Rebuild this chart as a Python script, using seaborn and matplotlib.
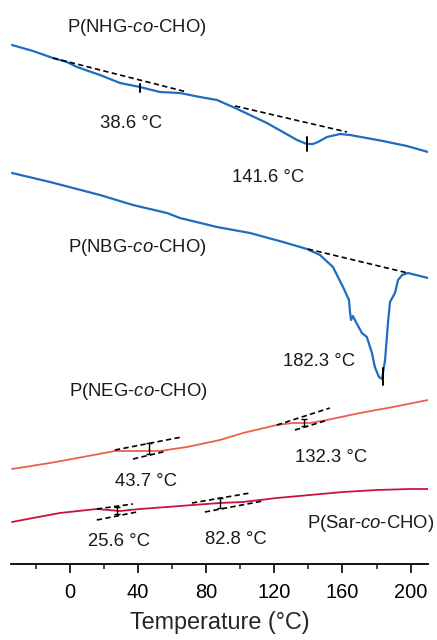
import seaborn as sns
import matplotlib.pyplot as plt
import numpy as np

# ----------- DATA (heat flow in a.u., curves already offset) -----------
nhg_t = [-34.0, -21.7, -10.0, -1.8, 4.1, 17.6, 29.4, 41.1, 52.8, 64.6, 76.3, 86.3, 95.7,
         105.7, 115.6, 125.0, 133.3, 139.1, 142.6, 145.6, 150.9, 158.5, 164.4, 183.7, 197.8, 210.2]
nhg_hf = [519, 513, 506, 502, 497, 489, 481, 477, 472, 471, 467, 464, 457,
          449, 441, 432, 424, 420, 420, 422, 427, 430, 429, 423, 418, 412]

nbg_t = [-34.0, -11.7, 17.6, 37.0, 56.9, 64.6, 86.3, 105.7, 125.1, 139.1, 146.8, 154.4,
         160.3, 163.8, 164.4, 165.0, 166.1, 167.9, 171.4, 174.3, 177.3, 179.0, 181.4,
         183.2, 185.0, 186.7, 187.9, 190.8, 192.6, 195.0, 198.4, 210.2]
nbg_hf = [391, 382, 369, 359, 351, 346, 337, 331, 322, 315, 309, 297,
          277, 264, 252, 244, 248, 242, 231, 227, 211, 197, 187,
          185, 204, 241, 262, 271, 284, 289, 291, 286]

neg_t = [-34.0, -11.7, 7.6, 26.4, 41.1, 52.8, 68.7, 88.1, 101.6, 121.5, 130.9, 140.9,
         150.9, 170.2, 189.6, 210.2]
neg_hf = [95, 101, 107, 113, 113, 113, 117, 124, 131, 139, 141, 141, 144, 151, 157, 164]

sar_t = [-34.0, -21.7, -5.9, 15.8, 29.4, 41.1, 56.9, 72.2, 88.1, 101.6, 121.5, 140.9,
         160.3, 180.2, 199.6, 210.2]
sar_hf = [42, 46, 51, 55, 53, 55, 57, 59, 61, 62, 66, 69, 72, 74, 75, 75]

# tangent lines: (T1, T2, hf1, hf2)
nhg_tangents = [(-10.0, 68.7, 506, 472), (96.9, 162.6, 458, 432)]
nbg_tangents = [(139.7, 198.4, 315, 291)]
neg_tangents = [(26.4, 65.7, 114, 127), (37.0, 56.9, 105, 113),
                (121.5, 152.6, 139, 156), (132.1, 151.5, 134, 144)]
sar_tangents = [(15.8, 37.0, 55, 60), (15.8, 39.3, 44, 52),
                (71.6, 105.7, 61, 71), (79.2, 113.3, 52, 63)]

# transition marks: (T, hf_low, hf_high)
step_marks = [(41.1, 472, 480), (139.1, 413, 427), (183.7, 179, 196)]
capped_marks = [(46.4, 110, 121), (137.4, 138, 145), (27.6, 50, 57), (88.1, 56, 66)]

# labels: (text, T, hf)
labels = [
    ("P(NHG-$\\it{co}$-CHO)", 39.3, 537),
    ("38.6 °C", 35.8, 441),
    ("141.6 °C", 116.2, 387),
    ("P(NBG-$\\it{co}$-CHO)", 39.6, 316),
    ("182.3 °C", 146.2, 202),
    ("P(NEG-$\\it{co}$-CHO)", 39.9, 172),
    ("132.3 °C", 153.2, 107),
    ("43.7 °C", 44.6, 82),
    ("25.6 °C", 28.8, 22),
    ("82.8 °C", 97.4, 24),
    ("P(Sar-$\\it{co}$-CHO)", 176.7, 41),
]

# ----------- STYLE -----------
sns.set_style("white")
plt.rcParams["font.family"] = ["Liberation Sans", "DejaVu Sans"]
plt.rcParams["mathtext.fontset"] = "custom"
plt.rcParams["mathtext.rm"] = "Liberation Sans"
plt.rcParams["mathtext.it"] = "Liberation Sans:italic"

fig = plt.figure(figsize=(4.37, 6.4), dpi=100)
ax = fig.add_axes([11 / 437, 76 / 640, 417 / 437, 564 / 640])

blue = "#1f6cc0"
orange = "#ec5f4a"
crimson = "#c8143a"

# ----------- CURVES -----------
sns.lineplot(x=nhg_t, y=nhg_hf, color=blue, lw=1.6, estimator=None, sort=False, ax=ax)
sns.lineplot(x=nbg_t, y=nbg_hf, color=blue, lw=1.6, estimator=None, sort=False, ax=ax)
sns.lineplot(x=neg_t, y=neg_hf, color=orange, lw=1.3, estimator=None, sort=False, ax=ax)
sns.lineplot(x=sar_t, y=sar_hf, color=crimson, lw=1.3, estimator=None, sort=False, ax=ax)

for t1, t2, h1, h2 in nhg_tangents + nbg_tangents + neg_tangents + sar_tangents:
    ax.plot([t1, t2], [h1, h2], color="black", lw=1.2, ls=(0, (3.2, 2)))

for t, lo, hi in step_marks:
    ax.plot([t, t], [lo, hi], color="black", lw=1.4)

for t, lo, hi in capped_marks:
    ax.errorbar(t, (lo + hi) / 2, yerr=(hi - lo) / 2, fmt="none",
                ecolor="black", elinewidth=1.0, capsize=2.5, capthick=1.0)

for text, t, h in labels:
    ax.text(t, h, text, fontsize=13.3, ha="center", va="center", color="#1a1a1a")

# ----------- AXES -----------
ax.set_xlim(-34.6, 210.2)
ax.set_ylim(0, 564)
ax.set_xticks(np.arange(0, 201, 40))
ax.set_xticks(np.arange(-20, 201, 40), minor=True)
ax.set_yticks([])
for side in ["left", "right", "top"]:
    ax.spines[side].set_visible(False)
ax.spines["bottom"].set_linewidth(1.3)
ax.spines["bottom"].set_color("black")
ax.tick_params(axis="x", which="major", direction="out", length=6.5, width=1.2,
               labelsize=14.4, pad=7, bottom=True, colors="black")
ax.tick_params(axis="x", which="minor", direction="out", length=3.5, width=1.2, bottom=True)
ax.set_xlabel("Temperature (°C)", fontsize=16.8, labelpad=7)
ax.set_ylabel("")

fig.savefig("out.png", dpi=100)
